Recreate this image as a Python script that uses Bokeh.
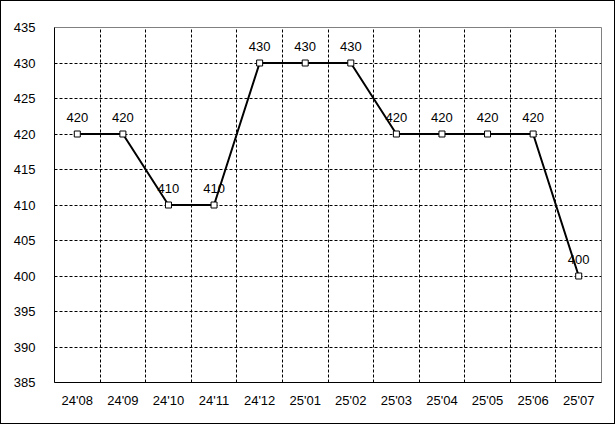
from bokeh.plotting import figure
from bokeh.models import Range1d, FixedTicker, ColumnDataSource
from bokeh.core.properties import value
from bokeh.embed import file_html
from bokeh.resources import INLINE

months = ["24'08", "24'09", "24'10", "24'11", "24'12", "25'01", "25'02",
          "25'03", "25'04", "25'05", "25'06", "25'07"]
prices = [420, 420, 410, 410, 430, 430, 430, 420, 420, 420, 420, 400]
y_ticks = [385, 390, 395, 400, 405, 410, 415, 420, 425, 430, 435]

FONT = "Liberation Sans"
xs = [i + 0.5 for i in range(len(months))]
src = ColumnDataSource(dict(x=xs, y=prices, lab=[str(v) for v in prices]))

p = figure(width=615, height=424, output_backend="svg", toolbar_location=None,
           x_range=Range1d(0, len(months)), y_range=Range1d(385, 435),
           min_border_left=53, min_border_right=15, min_border_top=26, min_border_bottom=43)
p.styles = {"border": "1px solid black", "box-sizing": "border-box"}
p.outline_line_color = "#808080"
p.background_fill_color = "white"

p.xaxis.ticker = FixedTicker(ticks=xs)
p.xaxis.major_label_overrides = {x: m for x, m in zip(xs, months)}
p.yaxis.ticker = FixedTicker(ticks=y_ticks)
for ax in (p.xaxis[0], p.yaxis[0]):
    ax.axis_line_color = "black"
    ax.major_tick_line_color = None
    ax.minor_tick_line_color = None
    ax.major_label_text_font = FONT
    ax.major_label_text_font_size = "13px"
    ax.major_label_text_color = "black"
p.xaxis.major_label_standoff = 4
p.yaxis.major_label_standoff = 13

p.xgrid.ticker = FixedTicker(ticks=list(range(1, len(months))))
p.ygrid.ticker = FixedTicker(ticks=y_ticks[1:-1])
for g in (p.xgrid[0], p.ygrid[0]):
    g.grid_line_color = "black"
    g.grid_line_dash = "3 2"
    g.grid_line_width = 1

p.line("x", "y", source=src, line_color="black", line_width=2)
p.scatter("x", "y", source=src, marker="square", size=6, fill_color="white",
          line_color="black", line_width=1)
p.text("x", "y", text="lab", source=src, text_align="center", text_baseline="alphabetic",
       y_offset=-17, text_font=value(FONT), text_font_size="13px", text_color="black")

open("out.html", "w").write(file_html(p, INLINE))
